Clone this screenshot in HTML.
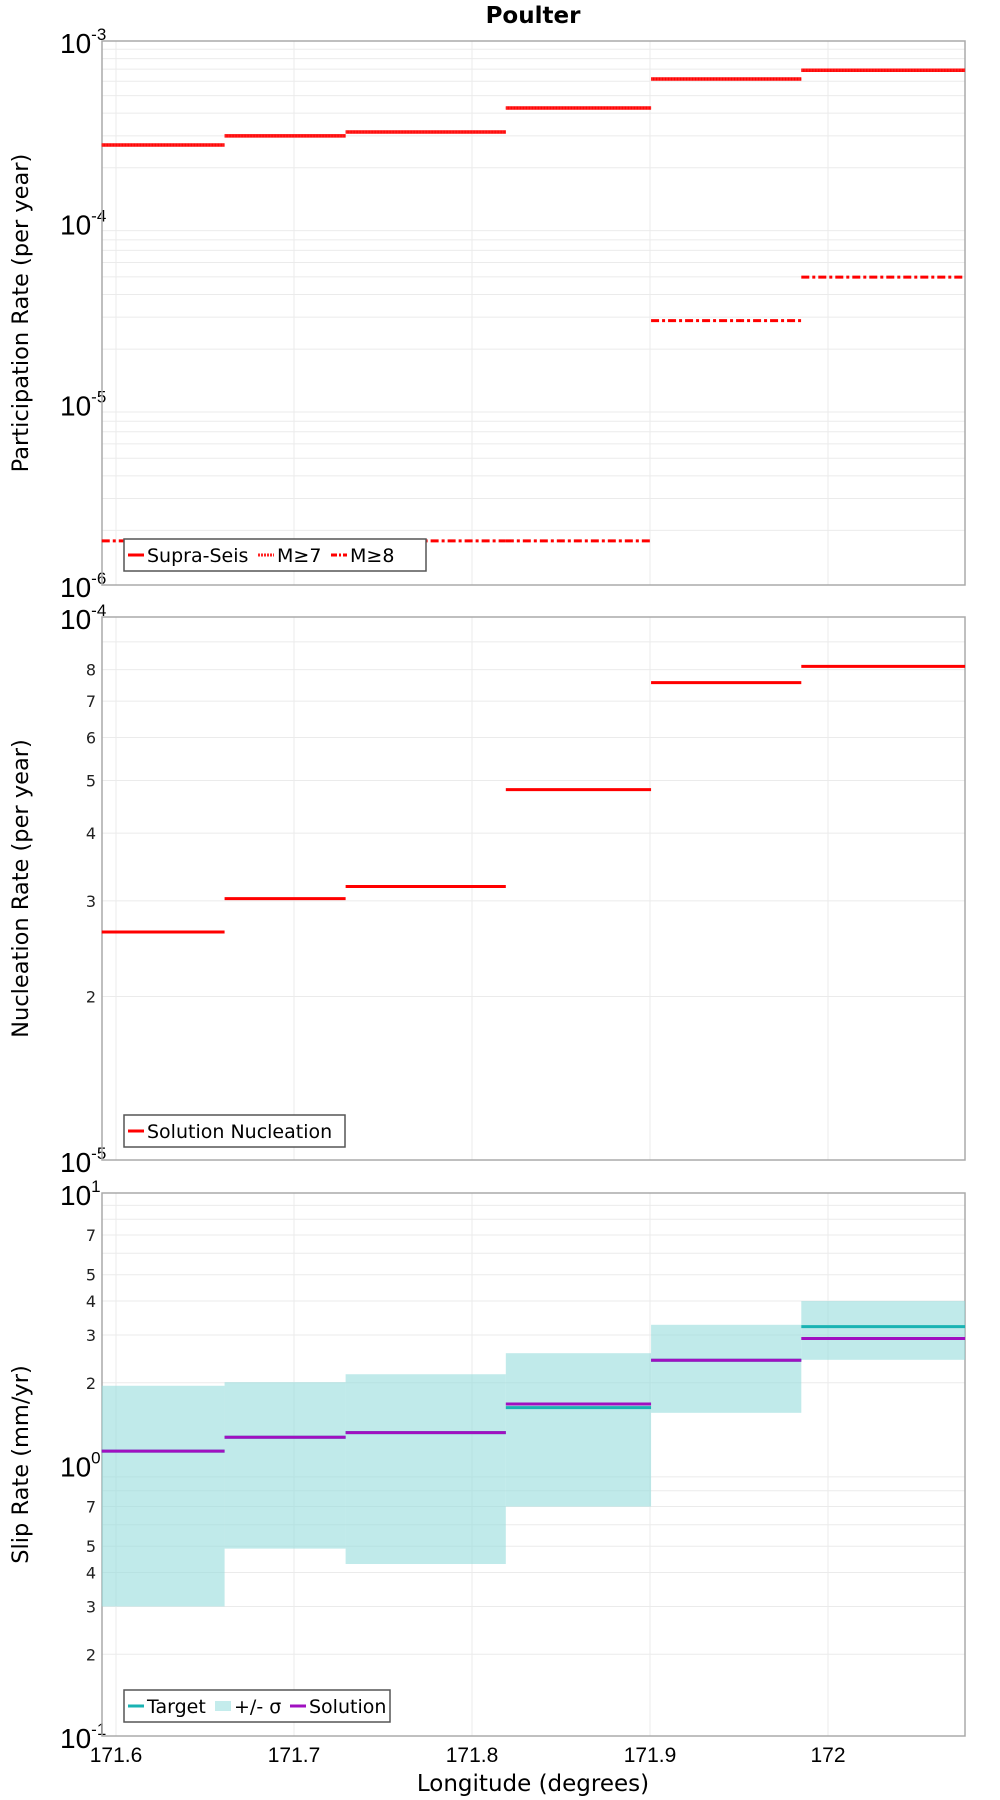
<!DOCTYPE html>
<html><head><meta charset="utf-8"><style>
html,body{margin:0;padding:0;background:#fff;}
svg{display:block;font-family:"DejaVu Sans","Liberation Sans",sans-serif;}
</style></head><body>
<svg id="chart" width="1000" height="1800" viewBox="0 0 1000 1800">
<text x="533" y="23" text-anchor="middle" font-size="23" font-weight="bold">Poulter</text>
<g id="g1"></g>
<g id="g2"></g>
<g id="g3"></g>
<text x="533" y="1791" text-anchor="middle" font-size="23">Longitude (degrees)</text>
</svg>
<script>
const binEdges = [171.592, 171.661, 171.729, 171.819, 171.9006, 171.985, 172.077];
const xTicks = [171.6, 171.7, 171.8, 171.9, 172.0];
const xTickLabels = ["171.6", "171.7", "171.8", "171.9", "172"];
const supraSeis = [2.67e-4, 3.0e-4, 3.15e-4, 4.27e-4, 6.17e-4, 6.9e-4];
const m7 = [2.67e-4, 3.0e-4, 3.15e-4, 4.27e-4, 6.17e-4, 6.9e-4];
const m8 = [1.75e-6, 1.75e-6, 1.75e-6, 1.75e-6, 2.87e-5, 4.99e-5];
const nucleation = [2.63e-5, 3.03e-5, 3.19e-5, 4.81e-5, 7.57e-5, 8.11e-5];
const target = [1.12, 1.26, 1.31, 1.62, 2.42, 3.22];
const sigmaHigh = [1.95, 2.01, 2.15, 2.57, 3.27, 4.0];
const sigmaLow = [0.30, 0.49, 0.43, 0.70, 1.55, 2.43];
const solution = [1.12, 1.26, 1.31, 1.67, 2.42, 2.91];

const NS = "http://www.w3.org/2000/svg";
const L = 102, R = 965;
function xs(v){ return 116 + (v - 171.6) * 1780; }
function mk(parent, tag, attrs){ const e = document.createElementNS(NS, tag); for (const k in attrs) e.setAttribute(k, attrs[k]); parent.appendChild(e); return e; }
function makeY(top, bot, lmin, lmax){ return v => bot - (Math.log10(v) - lmin) / (lmax - lmin) * (bot - top); }

function panel(g, top, bot, lmin, lmax, title, minorLabels, showXLabels){
  const y = makeY(top, bot, lmin, lmax);
  for (let d = lmin; d < lmax; d++) for (let m = 2; m <= 9; m++){
    const v = m * Math.pow(10, d), yy = y(v);
    const gl = mk(g, "line", {x1:L, x2:R, y1:yy, y2:yy, stroke:"#ebebeb", "stroke-width":1});
    
    
    if (minorLabels.includes(m)){
      const t = mk(g, "text", {x:96, y:yy+6, "text-anchor":"end", "font-size":16, fill:"#222"});
      t.textContent = m;
      
      
    }
  }
  xTicks.forEach((v, i) => {
    const gl = mk(g, "line", {x1:xs(v), x2:xs(v), y1:top, y2:bot, stroke:"#ebebeb", "stroke-width":1});
    
    
    if (showXLabels){
      const t = mk(g, "text", {x:xs(v), y:bot+26, "text-anchor":"middle", "font-size":21, "font-family":"Liberation Sans, sans-serif"});
      t.textContent = xTickLabels[i];
      
      
    }
  });
  for (let d = lmin; d <= lmax; d++){
    const yy = y(Math.pow(10, d));
    const t = mk(g, "text", {x:60, y:yy+12, "font-size":28, "font-family":"Liberation Sans, sans-serif"});
    t.innerHTML = '10<tspan dy="-13" font-size="17">' + d + '</tspan>';
    
    
  }
  const f = mk(g, "rect", {x:L, y:top, width:R-L, height:bot-top, fill:"none", stroke:"#aaa", "stroke-width":1.5});
  
  
  const tt = mk(g, "text", {x:0, y:0, "text-anchor":"middle", "font-size":22.5, transform:`translate(28,${(top+bot)/2}) rotate(-90)`});
  tt.textContent = title;
  
  
  return y;
}
function steps(g, y, vals, color, width, dash, name){
  vals.forEach((v, i) => {
    const a = {x1:xs(binEdges[i]), x2:xs(binEdges[i+1]), y1:y(v), y2:y(v), stroke:color, "stroke-width":width};
    if (dash) a["stroke-dasharray"] = dash;
    const l = mk(g, "line", a);
    
    
  });
}
function legend(g, x, y0, w, items){
  const b = mk(g, "rect", {x:x, y:y0, width:w, height:32, fill:"#fff", stroke:"#555", "stroke-width":1.5});
  
  
  let cx = x + 4;
  items.forEach(it => {
    const a = {x1:cx, x2:cx+16, y1:y0+16, y2:y0+16, stroke:it.c, "stroke-width":it.w || 3};
    if (it.d) a["stroke-dasharray"] = it.d;
    const s = mk(g, "line", a);
    
    
    const t = mk(g, "text", {x:cx+19, y:y0+23, "font-size":19});
    t.textContent = it.t;
    
    
    cx += 19 + it.tw + 6;
  });
}

const g1 = document.getElementById("g1");
const y1 = panel(g1, 41, 585, -6, -3, "Participation Rate (per year)", [], false);
steps(g1, y1, supraSeis, "#ff0000", 3.5, null, "supra-seis-step");
steps(g1, y1, m7, "#ff2020", 3, "2,1", "m7-step");
steps(g1, y1, m8, "#ff0000", 3, "8,3,3,3", "m8-step");
legend(g1, 124, 539, 302, [{c:"#f00",t:"Supra-Seis",tw:105},{c:"#f22",t:"M≥7",tw:48,d:"2,1"},{c:"#f00",t:"M≥8",tw:48,d:"6,2,2,2"}]);

const g2 = document.getElementById("g2");
const y2 = panel(g2, 617, 1160, -5, -4, "Nucleation Rate (per year)", [2,3,4,5,6,7,8], false);
steps(g2, y2, nucleation, "#ff0000", 3, null, "nucleation-step");
legend(g2, 124, 1115, 221, [{c:"#f00",t:"Solution Nucleation",tw:190}]);

const g3 = document.getElementById("g3");
const y3 = panel(g3, 1193, 1736, -1, 1, "Slip Rate (mm/yr)", [2,3,4,5,7], true);
sigmaHigh.forEach((v, i) => {
  const r = mk(g3, "rect", {x:xs(binEdges[i]), y:y3(v), width:xs(binEdges[i+1])-xs(binEdges[i]), height:y3(sigmaLow[i])-y3(v), fill:"#96dcdc", "fill-opacity":0.6});
  
  
});
steps(g3, y3, target, "#1ab3b3", 3, null, "target-step");
steps(g3, y3, solution, "#a010c0", 3, null, "solution-step");
legend(g3, 124, 1690, 266, [{c:"#1ab3b3",t:"Target",tw:62},{c:"#c4ecec",t:"+/- σ",tw:50,w:10},{c:"#a010c0",t:"Solution",tw:80}]);
</script>
</body></html>
